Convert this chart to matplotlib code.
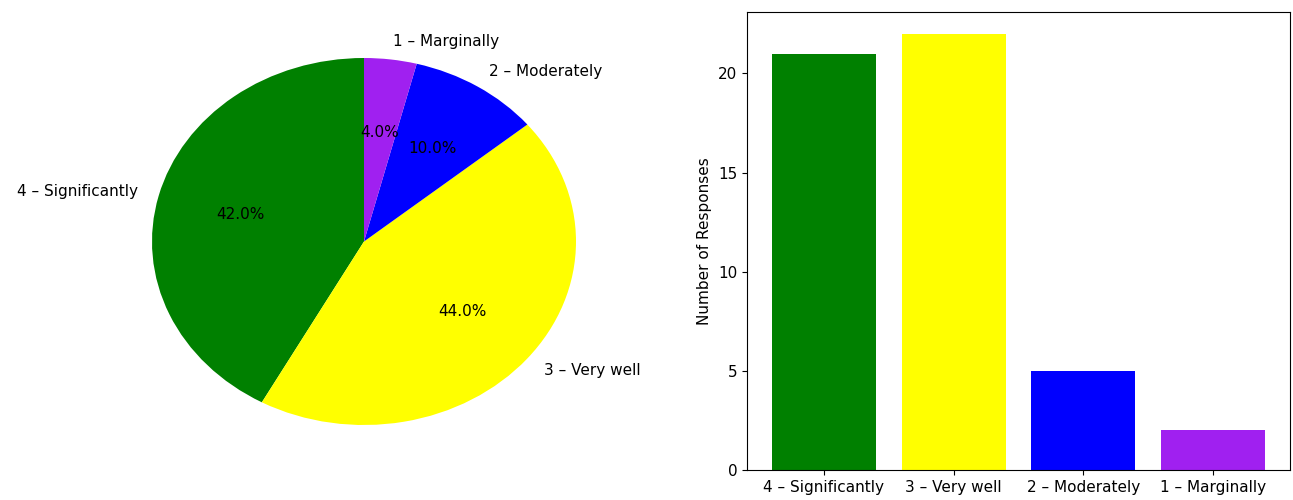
import numpy as np
import matplotlib
matplotlib.use('Agg')
import matplotlib.pyplot as plt

#%% Datos
categorias = ['4 – Significantly', '3 – Very well', '2 – Moderately', '1 – Marginally']
respuestas = [21, 22, 5, 2]
colores = ['green', 'yellow', 'blue', '#A020F0']

#%% Figura
fig = plt.figure(figsize=(12.93, 5), dpi=100)

# pastel a la izquierda (la imagen original esta achatada en vertical)
ax1 = fig.add_axes([114/1293, 0, 500/1293, 1])
ax1.pie(respuestas, labels=categorias, colors=colores, autopct='%1.1f%%',
        startangle=90, textprops={'fontsize': 11})
rx = 250/212
ry = 250/183.5
dy = 8.5/183.5
ax1.set_aspect('auto')
ax1.set_xlim(-rx, rx)
ax1.set_ylim(-ry - dy, ry - dy)

# barras a la derecha
ax2 = fig.add_axes([747/1293, 30/500, 543/1293, 458/500])
ax2.bar(categorias, respuestas, color=colores)
ax2.set_ylabel('Number of Responses', fontsize=11)
ax2.tick_params(labelsize=11)

fig.savefig('out.png', dpi=100)
plt.close()
